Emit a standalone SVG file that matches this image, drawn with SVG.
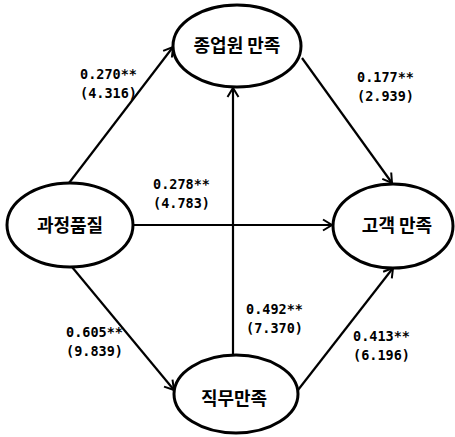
<svg xmlns="http://www.w3.org/2000/svg" width="455" height="437" viewBox="0 0 455 437">
  <style>
    .node ellipse { fill: #ffffff; stroke: #000000; stroke-width: 3; }
    .node text { font-family: "Noto Sans CJK KR", sans-serif; font-weight: 700; font-size: 18px; text-anchor: middle; dominant-baseline: central; fill: #000; }
    .edge { stroke: #000; stroke-width: 2.2; fill: none; marker-end: url(#arrow); }
    .lbl { font-family: "DejaVu Sans Mono", "Liberation Mono", monospace; font-weight: 700; font-size: 13.5px; fill: #000; }
  </style>
  <defs>
    <marker id="arrow" markerUnits="userSpaceOnUse" markerWidth="14" markerHeight="14" refX="11" refY="7" orient="auto">
      <path d="M2,1.5 L11,7 L2,12.5" fill="none" stroke="#000" stroke-width="2"/>
    </marker>
  </defs>

  <rect width="455" height="437" fill="#ffffff"/>

  <!-- paths between constructs -->
  <g id="connectors">
    <line class="edge" x1="69" y1="183" x2="173" y2="47"/>
    <line class="edge" x1="133" y1="225" x2="332" y2="225"/>
    <line class="edge" x1="72" y1="267" x2="174" y2="390"/>
    <line class="edge" x1="233" y1="355" x2="233" y2="88"/>
    <line class="edge" x1="302" y1="58" x2="392" y2="183"/>
    <line class="edge" x1="298" y1="390" x2="393" y2="268"/>
  </g>

  <!-- path coefficients (t-values) -->
  <g id="labels">
    <text class="lbl" x="80" y="79">0.270**</text>
    <text class="lbl" x="80" y="98">(4.316)</text>
    <text class="lbl" x="153" y="189">0.278**</text>
    <text class="lbl" x="153" y="208">(4.783)</text>
    <text class="lbl" x="357" y="82">0.177**</text>
    <text class="lbl" x="357" y="101">(2.939)</text>
    <text class="lbl" x="66" y="337">0.605**</text>
    <text class="lbl" x="66" y="356">(9.839)</text>
    <text class="lbl" x="246" y="314">0.492**</text>
    <text class="lbl" x="246" y="333">(7.370)</text>
    <text class="lbl" x="353" y="341">0.413**</text>
    <text class="lbl" x="353" y="360">(6.196)</text>
  </g>

  <g id="employee-satisfaction" class="node">
    <ellipse cx="237" cy="46" rx="64" ry="41"/>
    <text x="237" y="44">종업원 만족</text>
  </g>
  <g id="process-quality" class="node">
    <ellipse cx="70" cy="225" rx="63" ry="42"/>
    <text x="70" y="224">과정품질</text>
  </g>
  <g id="customer-satisfaction" class="node">
    <ellipse cx="393" cy="226" rx="60" ry="42"/>
    <text x="397" y="224">고객 만족</text>
  </g>
  <g id="job-satisfaction" class="node">
    <ellipse cx="236" cy="394" rx="62" ry="39"/>
    <text x="234" y="397">직무만족</text>
  </g>
</svg>
